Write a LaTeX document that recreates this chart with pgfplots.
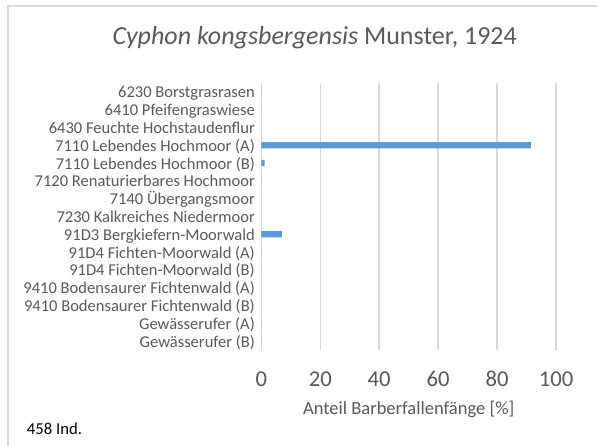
\documentclass[border=0pt]{standalone}
\usepackage{fontspec}
\setmainfont{Carlito}
\usepackage{pgfplots}
\pgfplotsset{compat=1.18}
\definecolor{bartone}{HTML}{5B9BD5}
\definecolor{gridgray}{HTML}{D9D9D9}
\definecolor{txtgray}{HTML}{595959}
\begin{document}
\begin{tikzpicture}
\useasboundingbox (0pt,0pt) rectangle (447.75pt,-334.5pt);
\draw[gridgray, line width=1.5pt] (5.8pt,-500pt) -- (5.8pt,-4.3pt) -- (600pt,-4.3pt);
\node[anchor=base, text=txtgray, font=\fontsize{19.5pt}{22pt}\selectfont, inner sep=0pt] at (236pt,-33.75pt) {\textit{Cyphon kongsbergensis} Munster, 1924};
\node[anchor=base west, text=black, font=\fontsize{12.5pt}{15pt}\selectfont, inner sep=0pt] at (20pt,-325.5pt) {458 Ind.};
\begin{axis}[
  at={(196pt,-262.5pt)}, anchor=south west,
  scale only axis, width=221pt, height=200.25pt,
  xbar, bar width=4.7pt,
  xmin=0, xmax=100,
  ymin=-0.5, ymax=14.5, y dir=reverse,
  xtick={0,20,40,60,80,100},
  ytick={0,...,14},
  yticklabels={6230 Borstgrasrasen, 6410 Pfeifengraswiese, 6430 Feuchte Hochstaudenflur, {7110 Lebendes Hochmoor (A)}, {7110 Lebendes Hochmoor (B)}, 7120 Renaturierbares Hochmoor, 7140 Übergangsmoor, 7230 Kalkreiches Niedermoor, 91D3 Bergkiefern-Moorwald, {91D4 Fichten-Moorwald (A)}, {91D4 Fichten-Moorwald (B)}, {9410 Bodensaurer Fichtenwald (A)}, {9410 Bodensaurer Fichtenwald (B)}, {Gewässerufer (A)}, {Gewässerufer (B)}},
  /pgf/number format/assume math mode=true,
  xmajorgrids, ymajorgrids=false,
  major grid style={gridgray, line width=1.1pt},
  axis line style={draw=none},
  major tick length=0pt,
  xticklabel style={anchor=base, inner sep=0pt, yshift=-27pt, text=txtgray, font=\fontsize{17pt}{20pt}\selectfont},
  yticklabel style={anchor=base east, inner sep=0pt, yshift=-4.5pt, xshift=-4.7pt, text=txtgray, font=\fontsize{12.4pt}{14pt}\selectfont},
  xlabel={Anteil Barberfallenfänge [\%]},
  xlabel style={at={(axis description cs:0.5,0)}, anchor=base, inner sep=0pt, yshift=-48.2pt, text=txtgray, font=\fontsize{13.9pt}{16pt}\selectfont},
  clip=false,
]
\addplot[fill=bartone, draw=none] coordinates {
  (0,0) (0,1) (0,2) (91.5,3) (1.1,4) (0,5) (0,6) (0,7) (7.0,8) (0,9) (0,10) (0,11) (0,12) (0,13) (0,14)
};
\end{axis}
\end{tikzpicture}
\end{document}
